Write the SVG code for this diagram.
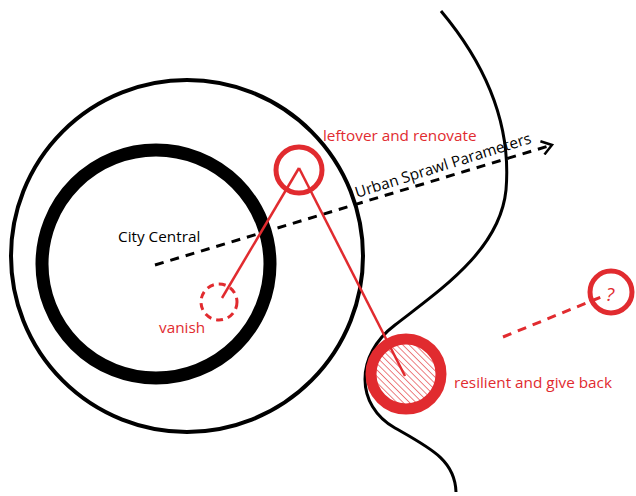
<svg xmlns="http://www.w3.org/2000/svg" width="636" height="496" viewBox="0 0 636 496">
<style>
.red{fill:none;stroke:#e12b2f}
.lbl{font-family:"Open Sans","Liberation Sans",sans-serif;font-size:15.3px}
.rt{fill:#e12b2f}
.bk{fill:#000}
</style>
<defs>
<pattern id="hatch" width="4.5" height="4.5" patternUnits="userSpaceOnUse" patternTransform="rotate(-45)">
<line x1="0" y1="0" x2="0" y2="4.5" stroke="#e12b2f" stroke-width="1.2"/>
</pattern>
<marker id="arr" markerWidth="14" markerHeight="16" refX="12" refY="8" orient="auto" markerUnits="userSpaceOnUse">
<path d="M2,1 L12,8 L2,15" fill="none" stroke="#000" stroke-width="2.5"/>
</marker>
</defs>
<g id="outer-ring"><circle cx="187" cy="256" r="176" fill="none" stroke="#000" stroke-width="4"/></g>
<g id="city-central">
<circle cx="156" cy="264" r="114" fill="none" stroke="#000" stroke-width="13"/>
<text class="lbl bk" x="118" y="242">City Central</text>
</g>
<g id="river"><path d="M441,11 C482,60 512,120 506,190 C500,250 440,290 395,325 C355,355 355,405 395,428 C430,448 455,460 456,492" fill="none" stroke="#000" stroke-width="3"/></g>
<g id="connectors">
<line x1="155" y1="265" x2="552" y2="145" stroke="#000" stroke-width="3" stroke-dasharray="9,7" marker-end="url(#arr)"/>
<line x1="299" y1="168" x2="222" y2="298" class="red" stroke-width="2.5"/>
<line x1="299" y1="168" x2="405" y2="376" class="red" stroke-width="2.5"/>
<line x1="503" y1="337" x2="606" y2="295" class="red" stroke-width="3" stroke-dasharray="9,7"/>
<text class="lbl bk" transform="translate(357,198) rotate(-17.5)">Urban Sprawl Parameters</text>
</g>
<g id="leftover">
<circle cx="299" cy="170" r="23" class="red" stroke-width="5"/>
<text class="lbl rt" x="323" y="141">leftover and renovate</text>
</g>
<g id="vanish">
<circle cx="219" cy="302" r="18" class="red" stroke-width="3" stroke-dasharray="7,5"/>
<text class="lbl rt" x="159" y="333">vanish</text>
</g>
<g id="resilient">
<circle cx="406" cy="374" r="30" fill="url(#hatch)"/>
<circle cx="406" cy="374" r="35" class="red" stroke-width="11"/>
<text class="lbl rt" x="454" y="388">resilient and give back</text>
</g>
<g id="unknown">
<circle cx="611" cy="292" r="21" class="red" stroke-width="5"/>
<text class="lbl rt" x="606" y="301" style="font-size:19px;font-style:italic">?</text>
</g>
</svg>
